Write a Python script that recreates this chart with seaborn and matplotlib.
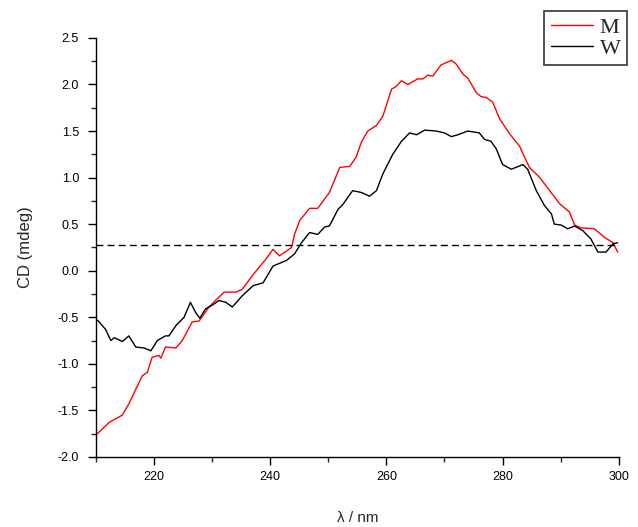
import numpy as np
import pandas as pd
import matplotlib
matplotlib.use("Agg")
import matplotlib.pyplot as plt
from matplotlib.ticker import MultipleLocator
import seaborn as sns

# CD spectra
wl_m = [210.3, 212.3, 214.6, 215.7, 218.0, 218.9, 219.7, 220.9, 221.2, 222.0,
        223.8, 224.9, 226.6, 227.8, 229.5, 230.6, 232.1, 234.1, 235.2, 237.1,
        239.1, 240.5, 241.6, 242.8, 243.7, 244.2, 245.1, 246.8, 248.2, 250.2,
        252.0, 253.7, 254.8, 255.7, 256.8, 258.3, 259.4, 260.9, 261.7, 262.6,
        263.7, 265.4, 266.3, 267.1, 268.0, 269.4, 271.2, 272.0, 273.2, 274.0,
        275.5, 276.3, 277.2, 278.3, 279.5, 281.2, 282.9, 284.6, 286.4, 288.1,
        289.8, 291.5, 292.4, 293.5, 295.8, 297.5, 299.0, 299.8]
cd_m = [-1.75, -1.63, -1.55, -1.43, -1.13, -1.09, -0.93, -0.91, -0.94, -0.82,
        -0.83, -0.75, -0.55, -0.54, -0.39, -0.32, -0.23, -0.23, -0.20, -0.04,
        0.11, 0.23, 0.16, 0.21, 0.25, 0.39, 0.54, 0.67, 0.67, 0.84,
        1.11, 1.12, 1.22, 1.38, 1.50, 1.56, 1.66, 1.95, 1.98, 2.04,
        2.00, 2.06, 2.06, 2.10, 2.09, 2.21, 2.26, 2.22, 2.11, 2.07,
        1.91, 1.87, 1.86, 1.81, 1.63, 1.47, 1.34, 1.11, 1.00, 0.86,
        0.72, 0.63, 0.49, 0.46, 0.45, 0.36, 0.30, 0.20]

wl_w = [210.3, 211.7, 212.6, 213.2, 214.6, 215.7, 216.9, 218.3, 219.5, 220.6,
        222.0, 222.6, 223.8, 225.2, 226.3, 227.2, 227.9, 228.9, 230.3, 231.2,
        232.4, 233.5, 235.2, 237.1, 238.8, 240.5, 242.8, 244.2, 245.4, 246.8,
        248.2, 249.4, 250.2, 251.7, 252.5, 254.2, 255.7, 257.1, 258.3, 259.4,
        261.1, 262.6, 264.0, 265.2, 266.6, 268.6, 270.0, 271.2, 272.3, 274.0,
        276.0, 276.9, 278.0, 278.9, 280.0, 281.5, 282.3, 283.5, 284.3, 285.8,
        287.2, 288.4, 288.9, 290.1, 291.2, 292.4, 293.8, 295.2, 296.4, 297.8,
        299.0, 299.8]
cd_w = [-0.53, -0.63, -0.75, -0.72, -0.76, -0.70, -0.82, -0.83, -0.86, -0.75,
        -0.70, -0.70, -0.59, -0.50, -0.34, -0.45, -0.51, -0.41, -0.36, -0.32,
        -0.34, -0.39, -0.27, -0.16, -0.13, 0.05, 0.11, 0.18, 0.30, 0.41,
        0.39, 0.47, 0.48, 0.66, 0.71, 0.86, 0.84, 0.80, 0.86, 1.04,
        1.25, 1.39, 1.48, 1.46, 1.51, 1.50, 1.48, 1.44, 1.46, 1.50,
        1.48, 1.41, 1.39, 1.31, 1.14, 1.09, 1.11, 1.14, 1.09, 0.86,
        0.70, 0.61, 0.50, 0.49, 0.45, 0.48, 0.43, 0.34, 0.20, 0.20,
        0.29, 0.30]

baseline = 0.28
labels = ["M", "W"]
colors = ["#ff0000", "#000000"]

df = pd.concat([
    pd.DataFrame({"wl": wl_m, "cd": cd_m, "sample": "M"}),
    pd.DataFrame({"wl": wl_w, "cd": cd_w, "sample": "W"}),
])

sns.set_style("ticks")
plt.rcParams["font.family"] = ["Liberation Sans", "DejaVu Sans"]

fig = plt.figure(figsize=(6.38, 5.27), dpi=100)
ax = fig.add_axes([0.150, 0.133, 0.820, 0.795])

sns.lineplot(data=df, x="wl", y="cd", hue="sample", palette=colors,
             hue_order=labels, linewidth=1.0, sort=True, estimator=None,
             legend=False, ax=ax)
ax.axhline(baseline, color="black", linestyle=(0, (5, 3)), linewidth=1.0)

ax.set_xlim(210, 300)
ax.set_ylim(-2.0, 2.5)
ax.set_xticks([220, 240, 260, 280, 300])
ax.xaxis.set_minor_locator(MultipleLocator(10))
ax.yaxis.set_major_locator(MultipleLocator(0.5))
ax.yaxis.set_minor_locator(MultipleLocator(0.25))
ax.yaxis.set_major_formatter(matplotlib.ticker.FormatStrFormatter("%.1f"))

ax.tick_params(which="major", direction="out", length=6, width=1,
               labelsize=9, colors="black", pad=4)
ax.tick_params(which="minor", direction="out", length=3.5, width=1)
ax.tick_params(axis="y", which="major", pad=6)
sns.despine(ax=ax)
for s in ["left", "bottom"]:
    ax.spines[s].set_linewidth(1.0)
    ax.spines[s].set_color("black")

ax.set_xlabel("λ / nm", fontsize=11, labelpad=20)
ax.set_ylabel("CD (mdeg)", fontsize=12, labelpad=18)

handles = [plt.Line2D([], [], color=c, linewidth=1.0) for c in colors]
leg = fig.legend(handles, labels, loc="upper left",
                 bbox_to_anchor=(544 / 638, 1 - 11 / 527),
                 borderaxespad=0, frameon=True, fancybox=False,
                 handlelength=1.9, handletextpad=0.3, borderpad=0.3,
                 labelspacing=0.0,
                 prop={"family": "Liberation Serif", "size": 16})
leg.get_frame().set_edgecolor("black")
leg.get_frame().set_linewidth(1.2)

fig.savefig("out.png", dpi=100)
